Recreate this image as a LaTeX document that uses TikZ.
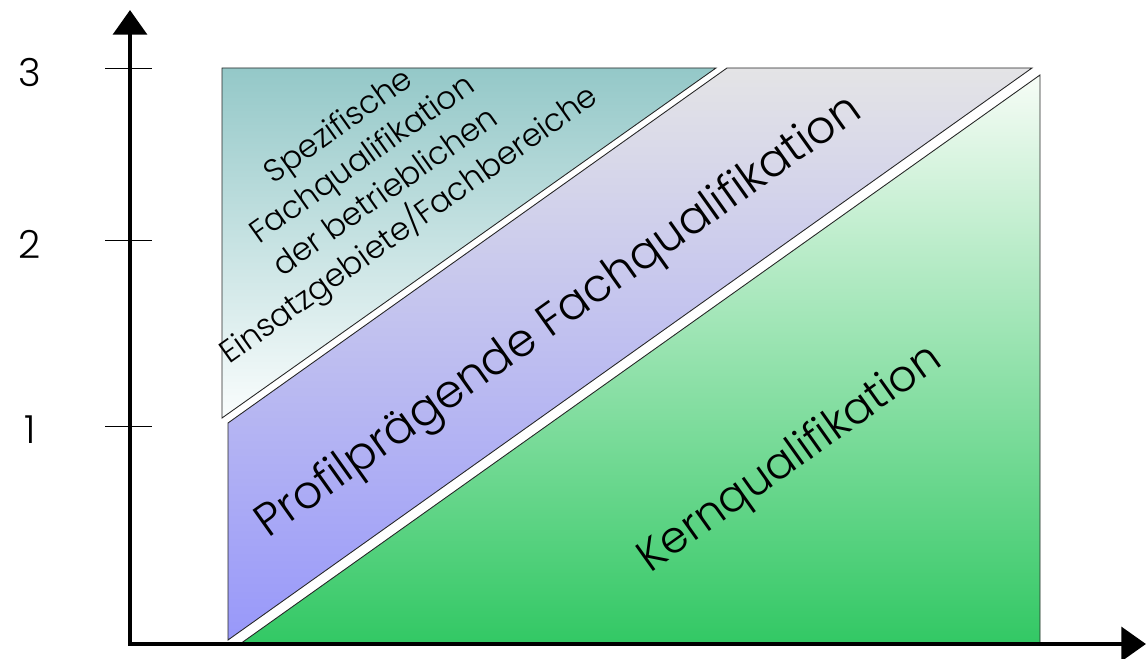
\documentclass[tikz,border=0pt]{standalone}
\usepackage{fontspec}
\setmainfont{Poppins}[UprightFont=* Light]
\usepackage{tikz}
\usetikzlibrary{arrows.meta, positioning}
\definecolor{tealtop}{RGB}{148,200,200}
\definecolor{tealbot}{RGB}{250,253,253}
\definecolor{violtop}{RGB}{228,228,230}
\definecolor{violbot}{RGB}{152,152,250}
\definecolor{gruentop}{RGB}{246,252,246}
\definecolor{gruenbot}{RGB}{50,200,100}
\tikzset{
  axis/.style={line width=2.8pt, {Triangle[length=14pt,width=19pt]}-{Triangle[length=14pt,width=19pt]}},
  tick/.style={line width=0.5pt},
  band/.style={draw=black!85, line width=0.5pt},
  lbl/.style={rotate=35.4, inner sep=0pt}
}

\begin{document}
\begin{tikzpicture}
                \useasboundingbox (0,0) rectangle (22.92,13.16);

                \shadedraw[band, top color=tealtop, bottom color=tealbot] (4.44,11.80) -- (14.32,11.80) -- (4.44,4.80) -- cycle;
                \shadedraw[band, top color=violtop, bottom color=violbot] (4.56,4.70) -- (14.54,11.80) -- (20.64,11.80) -- (4.56,0.36) -- cycle;
                \shadedraw[band, top color=gruentop, bottom color=gruenbot] (4.80,0.28) -- (20.80,11.66) -- (20.80,0.28) -- cycle;

                \node[lbl, align=center, font=\fontsize{18}{23}\selectfont] (spez) at (7.50,9.62) {Spezifische\\Fachqualifikation\\der betrieblichen\\Einsatzgebiete/Fachbereiche};
                \node[lbl, font=\fontsize{26}{30}\selectfont] (profil) at (11.20,6.80) {Profilprägende Fachqualifikation};
                \node[lbl, font=\fontsize{25}{30}\selectfont] (kern) at (15.82,3.96) {Kernqualifikation};

                \coordinate (o) at (2.60,0.28);
                \coordinate (ytip) at (2.60,12.96);
                \coordinate (xtip) at (22.92,0.28);
                \draw[axis] (ytip) -- (o) -- (xtip);

                \foreach \y/\t in {11.80/3, 8.36/2, 4.64/1} {
                    \draw[tick] (2.10,\y) -- (3.04,\y);
                    \node[font=\fontsize{22}{26}\selectfont] (n\t) at (0.60,\y-0.08) {\t};
                }
            \end{tikzpicture}
\end{document}
